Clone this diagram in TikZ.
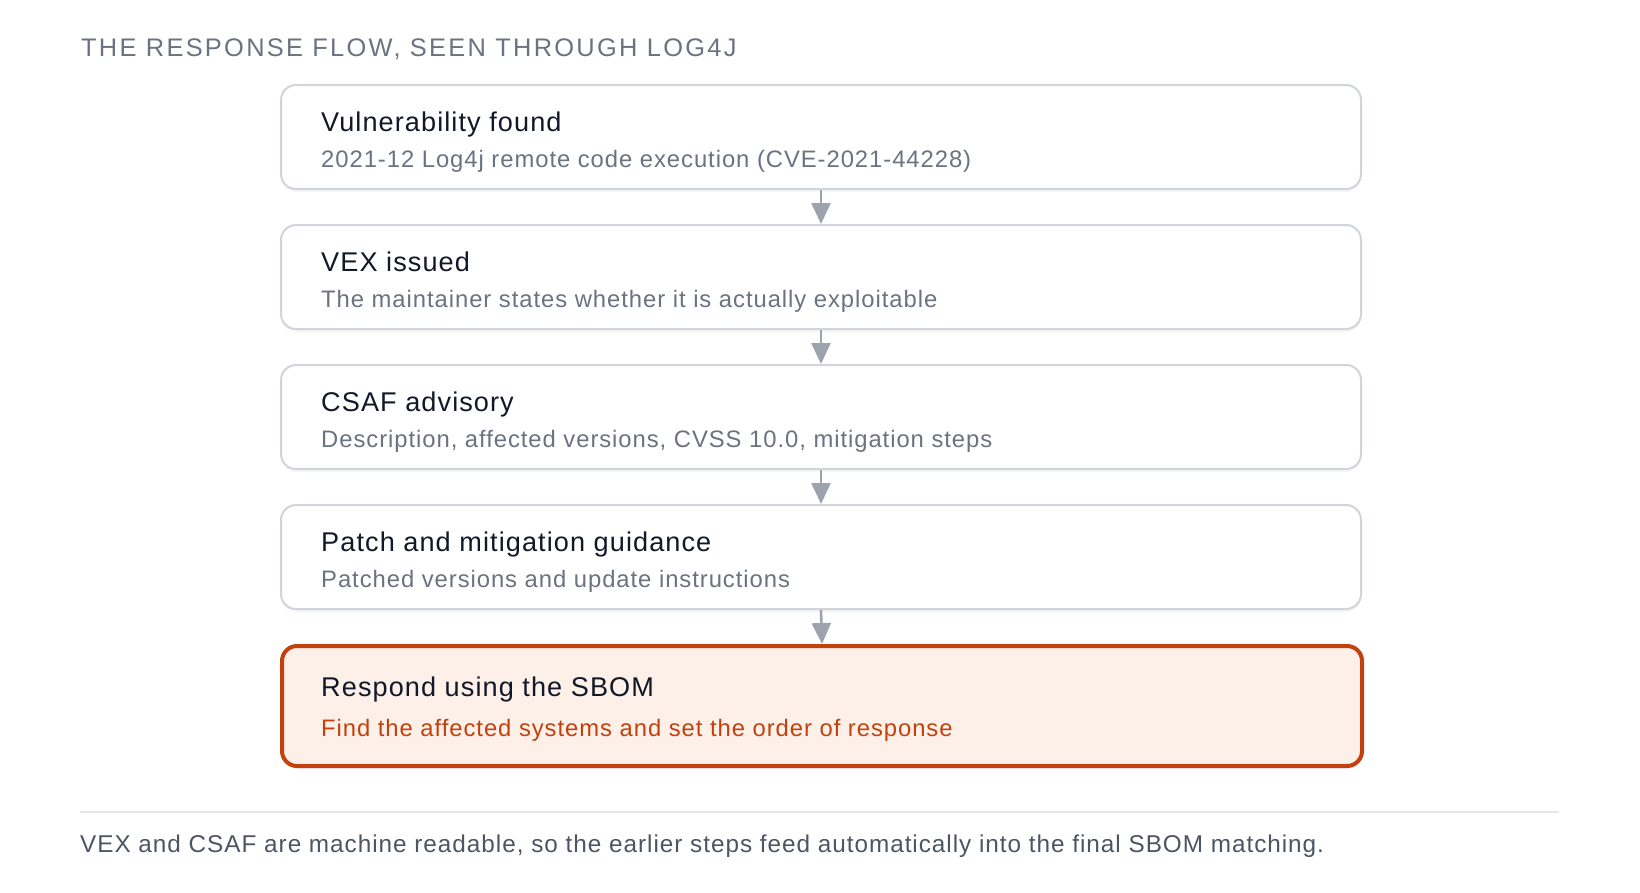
\documentclass[tikz,border=0pt]{standalone}
\usepackage{fontspec}
\setmainfont[LetterSpace=4]{Liberation Sans}
\newfontfamily\capsfont[LetterSpace=9]{Liberation Sans}
\usetikzlibrary{arrows.meta,positioning,shadows}

\definecolor{ink}{HTML}{111827}
\definecolor{muted}{HTML}{6B7280}
\definecolor{edgegray}{HTML}{D1D5DB}
\definecolor{arrowgray}{HTML}{9CA3AF}
\definecolor{rust}{HTML}{C2410C}
\definecolor{peach}{HTML}{FDF0E9}
\definecolor{rulegray}{HTML}{E5E7EB}
\definecolor{footgray}{HTML}{4B5563}

\tikzset{
  flowbox/.style={draw=edgegray,line width=2bp,fill=white,rounded corners=15bp,
    minimum width=1080bp,minimum height=104bp,inner sep=0pt,anchor=north west,
    drop shadow={opacity=0.07,shadow xshift=0bp,shadow yshift=-3bp}},
  hotbox/.style={flowbox,draw=rust,line width=4bp,fill=peach,minimum height=120bp},
  headtext/.style={anchor=base west,inner sep=0pt,text=ink,font=\fontsize{27.2}{30}\selectfont},
  subtext/.style={anchor=base west,inner sep=0pt,text=muted,font=\fontsize{23.9}{28}\selectfont},
  flow/.style={draw=arrowgray,line width=2.6bp,-{Triangle[width=19bp,length=21bp]}},
}

\begin{document}
\begin{tikzpicture}[x=1bp,y=-1bp]
  \useasboundingbox (0,0) rectangle (1640,892);

  % title
  \node[anchor=base west,inner sep=0pt,text=muted,font=\capsfont\fontsize{25.5}{30}\selectfont] (title) at (81,56.7) {THE RESPONSE FLOW, SEEN THROUGH LOG4J};

  % the steps
  \node[flowbox] (found) at (280,84) {};
  \node[headtext] (foundhead) at (321,131) {Vulnerability found};
  \node[subtext] (foundsub) at (321,167.7) {2021-12 Log4j remote code execution (CVE-2021-44228)};

  \node[flowbox] (vex) at (280,224) {};
  \node[headtext] (vexhead) at (321,271) {VEX issued};
  \node[subtext] (vexsub) at (321,307.7) {The maintainer states whether it is actually exploitable};

  \node[flowbox] (csaf) at (280,364) {};
  \node[headtext] (csafhead) at (321,411) {CSAF advisory};
  \node[subtext] (csafsub) at (321,447.7) {Description, affected versions, CVSS 10.0, mitigation steps};

  \node[flowbox] (patch) at (280,504) {};
  \node[headtext] (patchhead) at (321,551) {Patch and mitigation guidance};
  \node[subtext] (patchsub) at (321,587.7) {Patched versions and update instructions};

  \node[hotbox] (sbom) at (280,644) {};
  \node[headtext] (sbomhead) at (321,696) {Respond using the SBOM};
  \node[subtext,text=rust] (sbomsub) at (321,736.7) {Find the affected systems and set the order of response};

  % arrows
  \draw[flow] (found.south) -- (vex.north);
  \draw[flow] (vex.south) -- (csaf.north);
  \draw[flow] (csaf.south) -- (patch.north);
  \draw[flow] (patch.south) -- (sbom.north);

  % footer
  \draw[rulegray,line width=2bp] (80,812) -- (1559,812);
  \node[anchor=base west,inner sep=0pt,text=footgray,font=\fontsize{24.4}{28}\selectfont] (note) at (80,852) {VEX and CSAF are machine readable, so the earlier steps feed automatically into the final SBOM matching.};
\end{tikzpicture}
\end{document}
